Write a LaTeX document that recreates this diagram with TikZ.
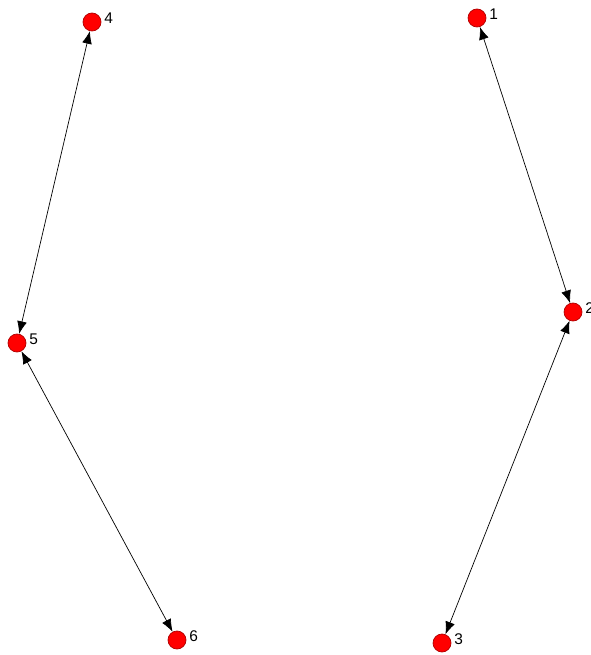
\documentclass[tikz,border=0pt]{standalone}
\usepackage{fontspec}
\setmainfont{Liberation Sans}
\usetikzlibrary{arrows.meta, positioning}

\begin{document}
\begin{tikzpicture}[x=0.025cm, y=-0.025cm]
% --- CORES E ESTILOS ---
\definecolor{vertice}{HTML}{FF0000}
\definecolor{contorno}{HTML}{B00000}
\tikzset{
  vert/.style={circle, fill=vertice, draw=contorno, line width=0.5pt, minimum size=0.45cm, inner sep=0pt},
  rotulo/.style={font=\fontsize{11}{13}\selectfont, inner sep=1pt},
  aresta/.style={line width=0.5pt, {Latex[length=9pt,width=7pt]}-{Latex[length=9pt,width=7pt]}}
}

\useasboundingbox (0,0) rectangle (590,655);

% LAYER 1: Vertices
\node[vert] (v1) at (477,18) {};
\node[vert] (v2) at (573,312) {};
\node[vert] (v3) at (442,643) {};
\node[vert] (v4) at (92,22) {};
\node[vert] (v5) at (17,343) {};
\node[vert] (v6) at (177,640) {};

% LAYER 2: Rotulos
\node[rotulo, right=1pt of v1, yshift=3pt] (r1) {1};
\node[rotulo, right=1pt of v2, yshift=3pt] (r2) {2};
\node[rotulo, right=1pt of v3, yshift=3pt] (r3) {3};
\node[rotulo, right=1pt of v4, yshift=3pt] (r4) {4};
\node[rotulo, right=1pt of v5, yshift=3pt] (r5) {5};
\node[rotulo, right=1pt of v6, yshift=3pt] (r6) {6};

% LAYER 3: Arestas
\draw[aresta] (v1) -- (v2);
\draw[aresta] (v2) -- (v3);
\draw[aresta] (v4) -- (v5);
\draw[aresta] (v5) -- (v6);
\end{tikzpicture}
\end{document}
